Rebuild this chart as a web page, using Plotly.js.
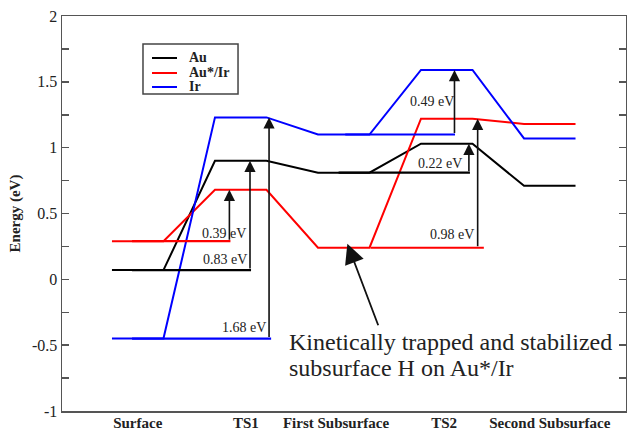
<!DOCTYPE html>
<html>
<head>
<meta charset="utf-8">
<script src="https://cdn.plot.ly/plotly-3.0.1.min.js"></script>
<style>html,body{margin:0;padding:0;background:#fff;}#chart{width:627px;height:431px;}</style>
</head>
<body>
<div id="chart"></div>
<script>
// ---- data ----
var categories = ["Surface", "TS1", "First Subsurface", "TS2", "Second Subsurface"];
var seriesNames = ["Au", "Au*/Ir", "Ir"];
var auEnergy   = [0.07, 0.90, 0.81, 1.03, 0.71];
var auIrEnergy = [0.29, 0.68, 0.24, 1.22, 1.18];
var irEnergy   = [-0.45, 1.23, 1.10, 1.59, 1.07];
var yTickValues = [-1, -0.5, 0, 0.5, 1, 1.5, 2];
var yTickLabels = ["-1", "-0.5", "0", "0.5", "1", "1.5", "2"];
var noteLines = ["Kinetically trapped and stabilized", "subsurface H on Au*/Ir"];

// ---- styling / layout helpers ----
var colors = ["#000000", "#ff0000", "#0000ff"];
var energies = [auEnergy, auIrEnergy, irEnergy];
var serif = "Liberation Serif, Times New Roman, serif";

function plateauTrace(vals, name, color) {
  var xs = [], ys = [];
  for (var i = 0; i < vals.length; i++) {
    xs.push(2 * i, 2 * i + 1);
    ys.push(vals[i], vals[i]);
  }
  return {x: xs, y: ys, type: "scatter", mode: "lines", name: name, showlegend: false,
          line: {color: color, width: 2}, hoverinfo: "skip"};
}

var traces = [];
for (var s = 0; s < 3; s++) traces.push(plateauTrace(energies[s], seriesNames[s], colors[s]));

// barrier arrows: series index, from state, to state, arrow x, baseline start/end, label right x, label y
var barriers = [
  {s: 1, a: 0, b: 1, ax: 2.28, x0: 0.39, x1: 2.30, lx: 2.64, ly: 0.35},
  {s: 0, a: 0, b: 1, ax: 2.68, x0: 0.39, x1: 2.70, lx: 2.67, ly: 0.15},
  {s: 2, a: 0, b: 1, ax: 3.05, x0: 0.39, x1: 3.09, lx: 3.02, ly: -0.365},
  {s: 2, a: 2, b: 3, ax: 6.65, x0: 4.53, x1: 6.66, lx: 6.68, ly: 1.353},
  {s: 0, a: 2, b: 3, ax: 6.93, x0: 4.40, x1: 6.95, lx: 6.84, ly: 0.883},
  {s: 1, a: 2, b: 3, ax: 7.10, x0: 5.02, x1: 7.22, lx: 7.06, ly: 0.337}
];

var annotations = [];
var shapes = [];
barriers.forEach(function (b) {
  var base = energies[b.s][b.a], top = energies[b.s][b.b];
  traces.push({x: [b.x0, b.x1], y: [base, base], type: "scatter", mode: "lines",
               showlegend: false, hoverinfo: "skip", line: {color: colors[b.s], width: 2.2}});
  annotations.push({x: b.ax, y: top, ax: b.ax, ay: base, xref: "x", yref: "y", axref: "x", ayref: "y",
                    text: "", showarrow: true, arrowhead: 2, arrowsize: 1.4, arrowwidth: 1.6,
                    arrowcolor: "#111", standoff: 0, startstandoff: 0});
  annotations.push({x: b.lx, y: b.ly, xref: "x", yref: "y", xanchor: "right", yanchor: "middle",
                    text: (top - base).toFixed(2) + " eV", showarrow: false,
                    font: {family: serif, size: 14, color: "#222"}});
});

// main note with big arrow
annotations.push({x: 4.57, y: 0.27, ax: 5.18, ay: -0.36, xref: "x", yref: "y", axref: "x", ayref: "y",
                  text: "", showarrow: true, arrowhead: 2, arrowsize: 2.2, arrowwidth: 1.8,
                  arrowcolor: "#111", standoff: 0});
var noteY = [-0.478, -0.675];
noteLines.forEach(function (t, i) {
  annotations.push({x: 3.40, y: noteY[i], xref: "x", yref: "y", xanchor: "left", yanchor: "middle",
                    text: t, showarrow: false, font: {family: serif, size: 24, color: "#222"}});
});

// legend box (drawn in paper coordinates)
var legBox = {x0: 0.1436, x1: 0.3121, y0: 0.8025, y1: 0.9291};
var legRowY = [0.8937, 0.8557, 0.8203];
shapes.push({type: "rect", xref: "paper", yref: "paper", x0: legBox.x0, x1: legBox.x1, y0: legBox.y0, y1: legBox.y1,
             line: {color: "#444", width: 1.5}, fillcolor: "#ffffff", layer: "above"});
seriesNames.forEach(function (n, i) {
  shapes.push({type: "line", xref: "paper", yref: "paper", x0: 0.1596, x1: 0.2039, y0: legRowY[i], y1: legRowY[i],
               line: {color: colors[i], width: 2}, layer: "above"});
  annotations.push({x: 0.2216, y: legRowY[i], xref: "paper", yref: "paper", xanchor: "left", yanchor: "middle",
                    text: n, showarrow: false, font: {family: serif, size: 14, color: "#222", weight: "bold"}});
});

var layout = {
  width: 627, height: 431,
  margin: {l: 62, r: 1, t: 16, b: 20, pad: 0},
  paper_bgcolor: "#ffffff", plot_bgcolor: "#ffffff",
  showlegend: false,
  xaxis: {range: [-0.97, 9.98], showgrid: false, zeroline: false, showline: true, mirror: true,
          linecolor: "#555", linewidth: 1.5, ticks: "", ticklabelstandoff: -3,
          tickvals: [0.5, 2.6, 4.35, 6.45, 8.5], ticktext: categories,
          tickfont: {family: serif, size: 15, color: "#222", weight: "bold"}},
  yaxis: {range: [-1, 2], tickmode: "array", tickvals: yTickValues, ticktext: yTickLabels,
          showgrid: false, zeroline: false, showline: true, mirror: "ticks",
          linecolor: "#555", linewidth: 1.5, ticks: "inside", ticklen: 7, tickwidth: 1.5, tickcolor: "#555",
          minor: {dtick: 0.25, tick0: 0, ticks: "inside", ticklen: 7, tickwidth: 1.5, tickcolor: "#555"},
          tickfont: {family: serif, size: 16, color: "#222"},
          title: {text: "Energy (eV)", standoff: 7, font: {family: serif, size: 15, color: "#222", weight: "bold"}}},
  shapes: shapes,
  annotations: annotations
};

Plotly.newPlot("chart", traces, layout, {displayModeBar: false, staticPlot: true});
</script>
</body>
</html>
